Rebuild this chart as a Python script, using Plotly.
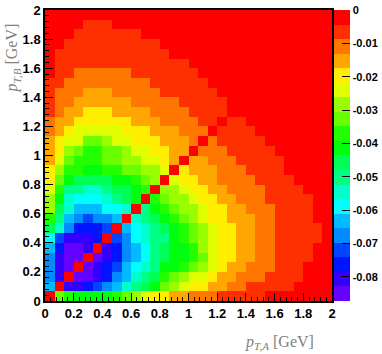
import numpy as np
import plotly.graph_objects as go

# 30 x 30 bins de 0 a 2 GeV nos dois eixos
x_edges = np.linspace(0, 2, 31)
y_edges = np.linspace(0, 2, 31)

# valores, em unidades de 1e-3; linha 0 = bin de baixo (pT,B pequeno)
z_rows = [
    [0, -33, -37, -41, -41, -41, -41, -37, -33, -28, -24, -20, -20, -15, -15, -11, -11, -11, -7, -7, -7, -7, -7, -2, -2, -2, -2, -2, -2, -2],
    [-63, 0, -81, -81, -76, -72, -68, -63, -55, -50, -46, -41, -33, -28, -24, -20, -20, -15, -15, -11, -11, -7, -7, -7, -7, -7, -2, -2, -2, -2],
    [-68, -81, 0, -85, -85, -81, -76, -68, -63, -55, -50, -46, -37, -33, -28, -24, -24, -20, -15, -15, -11, -11, -11, -7, -7, -7, -7, -2, -2, -2],
    [-68, -81, -85, 0, -85, -81, -76, -72, -63, -59, -55, -50, -41, -41, -37, -33, -28, -24, -20, -15, -15, -11, -11, -11, -7, -7, -7, -2, -2, -2],
    [-68, -81, -85, -85, 0, -85, -81, -76, -68, -63, -59, -50, -46, -41, -41, -37, -33, -24, -20, -20, -15, -15, -11, -11, -7, -7, -7, -7, -2, -2],
    [-63, -76, -85, -85, -81, 0, -81, -76, -68, -63, -59, -50, -46, -41, -41, -37, -28, -24, -20, -20, -15, -15, -11, -11, -7, -7, -7, -7, -2, -2],
    [-59, -72, -81, -81, -81, -76, 0, -72, -68, -59, -55, -50, -50, -41, -37, -33, -28, -24, -20, -20, -15, -15, -11, -11, -7, -7, -7, -7, -7, -2],
    [-46, -55, -68, -76, -76, -76, -72, 0, -63, -59, -55, -50, -46, -41, -37, -33, -28, -24, -20, -20, -15, -15, -11, -11, -7, -7, -7, -7, -7, -2],
    [-37, -50, -63, -68, -72, -68, -68, -63, 0, -55, -50, -46, -41, -37, -33, -28, -24, -20, -20, -15, -15, -15, -11, -11, -7, -7, -7, -7, -2, -2],
    [-28, -46, -55, -63, -63, -63, -59, -59, -55, 0, -50, -41, -37, -33, -28, -28, -24, -20, -20, -15, -15, -11, -11, -11, -7, -7, -7, -7, -2, -2],
    [-28, -41, -55, -59, -59, -59, -55, -50, -46, -41, 0, -37, -33, -28, -28, -24, -20, -20, -15, -15, -11, -11, -11, -7, -7, -7, -7, -7, -2, -2],
    [-24, -37, -50, -50, -55, -55, -50, -46, -46, -41, -37, 0, -28, -28, -24, -20, -20, -15, -15, -11, -11, -11, -11, -7, -7, -7, -7, -2, -2, -2],
    [-20, -33, -41, -46, -46, -46, -46, -41, -41, -37, -33, -28, 0, -24, -20, -20, -15, -15, -11, -11, -11, -11, -7, -7, -7, -7, -2, -2, -2, -2],
    [-20, -28, -37, -37, -41, -41, -37, -37, -33, -33, -28, -28, -24, 0, -20, -15, -15, -15, -11, -11, -11, -7, -7, -7, -7, -2, -2, -2, -2, -2],
    [-15, -24, -33, -37, -37, -37, -33, -33, -28, -28, -24, -24, -20, -15, 0, -15, -15, -11, -11, -11, -7, -7, -7, -7, -7, -2, -2, -2, -2, -2],
    [-15, -20, -28, -33, -37, -37, -33, -33, -28, -24, -24, -20, -20, -15, -15, 0, -11, -11, -11, -7, -7, -7, -7, -7, -2, -2, -2, -2, -2, -2],
    [-15, -20, -24, -24, -33, -33, -28, -24, -24, -20, -20, -20, -15, -15, -15, -11, 0, -11, -7, -7, -7, -7, -7, -2, -2, -2, -2, -2, -2, -2],
    [-11, -15, -20, -24, -24, -24, -24, -24, -20, -20, -20, -15, -15, -15, -11, -11, -11, 0, -7, -7, -7, -7, -2, -2, -2, -2, -2, -2, -2, -2],
    [-11, -15, -15, -20, -20, -20, -20, -20, -20, -15, -15, -15, -11, -11, -11, -11, -7, -7, 0, -7, -7, -2, -2, -2, -2, -2, -2, -2, -2, -2],
    [-7, -11, -15, -15, -20, -20, -20, -15, -15, -15, -15, -11, -11, -11, -11, -7, -7, -7, -7, 0, -2, -2, -2, -2, -2, -2, -2, -2, -2, -2],
    [-7, -11, -11, -15, -15, -15, -15, -15, -15, -11, -11, -11, -11, -11, -7, -7, -7, -7, -7, -2, 0, -2, -2, -2, -2, -2, -2, -2, -2, -2],
    [-7, -11, -11, -11, -15, -15, -15, -11, -11, -11, -11, -11, -7, -7, -7, -7, -7, -7, -2, -2, -2, 0, -2, -2, -2, -2, -2, -2, -2, -2],
    [-7, -7, -11, -11, -11, -11, -11, -11, -11, -11, -11, -7, -7, -7, -7, -7, -7, -2, -2, -2, -2, -2, 0, -2, -2, -2, -2, -2, -2, -2],
    [-2, -7, -7, -11, -11, -11, -11, -11, -11, -7, -7, -7, -7, -7, -7, -7, -2, -2, -2, -2, -2, -2, -2, 0, -2, -2, -2, -2, -2, -2],
    [-2, -7, -7, -7, -7, -7, -7, -7, -7, -7, -7, -7, -7, -7, -7, -2, -2, -2, -2, -2, -2, -2, -2, -2, 0, -2, -2, -2, -2, -2],
    [-2, -7, -7, -7, -7, -7, -7, -7, -7, -7, -7, -7, -7, -2, -2, -2, -2, -2, -2, -2, -2, -2, -2, -2, -2, 0, -2, -2, -2, -2],
    [-2, -2, -7, -7, -7, -7, -7, -7, -7, -7, -7, -7, -2, -2, -2, -2, -2, -2, -2, -2, -2, -2, -2, -2, -2, -2, 0, -2, -2, -2],
    [-2, -2, -2, -7, -7, -7, -7, -7, -7, -7, -2, -2, -2, -2, -2, -2, -2, -2, -2, -2, -2, -2, -2, -2, -2, -2, -2, 0, -2, -2],
    [-2, -2, -2, -2, -7, -7, -7, -2, -2, -2, -2, -2, -2, -2, -2, -2, -2, -2, -2, -2, -2, -2, -2, -2, -2, -2, -2, -2, 0, -2],
    [-2, -2, -2, -2, -2, -2, -2, -2, -2, -2, -2, -2, -2, -2, -2, -2, -2, -2, -2, -2, -2, -2, -2, -2, -2, -2, -2, -2, -2, 0],
]
z = np.array(z_rows) * 1e-3

z_min = -0.0873
z_max = 0.0

# paleta do ROOT (violeta -> vermelho), 20 niveis de contorno
palette = ["#6300ff", "#3300ff", "#0014ff", "#0044ff", "#008bff", "#00bbff", "#00fffc", "#00ffcc", "#00ff85", "#00ff55",
           "#00ff0e", "#22ff00", "#69ff00", "#99ff00", "#e0ff00", "#ffee00", "#ffa700", "#ff7700", "#ff3000", "#ff0000"]
n = len(palette)
colorscale = []
for i, c in enumerate(palette):
    colorscale.append([i / n, c])
    colorscale.append([(i + 1) / n, c])

cb_ticks = [0, -0.01, -0.02, -0.03, -0.04, -0.05, -0.06, -0.07, -0.08]
cb_text = ["0", "-0.01", "-0.02", "-0.03", "-0.04", "-0.05", "-0.06", "-0.07", "-0.08"]
ax_ticks = [0, 0.2, 0.4, 0.6, 0.8, 1, 1.2, 1.4, 1.6, 1.8, 2]
ax_text = ["0", "0.2", "0.4", "0.6", "0.8", "1", "1.2", "1.4", "1.6", "1.8", "2"]

lab_font = dict(family="Liberation Sans, Arial, sans-serif", size=13, color="black", weight="bold")

fig = go.Figure(go.Heatmap(
    x=x_edges, y=y_edges, z=z,
    zmin=z_min, zmax=z_max,
    colorscale=colorscale,
    hoverinfo="skip",
    colorbar=dict(
        x=1.007, xanchor="left", y=0.5, yanchor="middle",
        len=1, lenmode="fraction", thickness=16,
        xpad=0, ypad=0, outlinewidth=0,
        tickvals=cb_ticks, ticktext=cb_text,
        ticks="inside", ticklen=8, tickcolor="black",
        ticklabeloverflow="allow",
        tickfont=dict(family=lab_font["family"], size=11, color="black", weight="bold"),
    ),
))

axis_style = dict(
    range=[0, 2], tickvals=ax_ticks, ticktext=ax_text,
    ticks="inside", ticklen=8, tickcolor="black", tickwidth=1,
    minor=dict(dtick=0.04, tick0=0, ticks="inside", ticklen=4, tickcolor="black"),
    showline=True, linecolor="black", linewidth=1.5, mirror=True,
    showgrid=False, zeroline=False, tickfont=lab_font,
    ticklabeloverflow="allow",
)
fig.update_xaxes(**axis_style)
fig.update_yaxes(**axis_style)

title_font = dict(family="Liberation Serif, DejaVu Serif, serif", size=16, color="#7f7f7f")
fig.add_annotation(text="<i>p</i><sub><i>T,A</i></sub> [GeV]", xref="paper", yref="paper",
                   x=0.944, y=-0.144, xanchor="right", yanchor="middle", showarrow=False, font=title_font)
fig.add_annotation(text="<i>p</i><sub><i>T,B</i></sub> [GeV]", xref="paper", yref="paper",
                   x=-0.1115, y=0.962, xanchor="center", yanchor="top", textangle=-90, showarrow=False, font=title_font)

fig.update_layout(
    width=382, height=354,
    margin=dict(l=45, r=50, t=10, b=53, autoexpand=False),
    paper_bgcolor="white", plot_bgcolor="white",
    showlegend=False,
)

# tira a margem padrao de 8 px do body pra o grafico ficar no lugar certo
fig.write_html("out.html", config={"displayModeBar": False},
               post_script="document.body.style.margin='0px';")
